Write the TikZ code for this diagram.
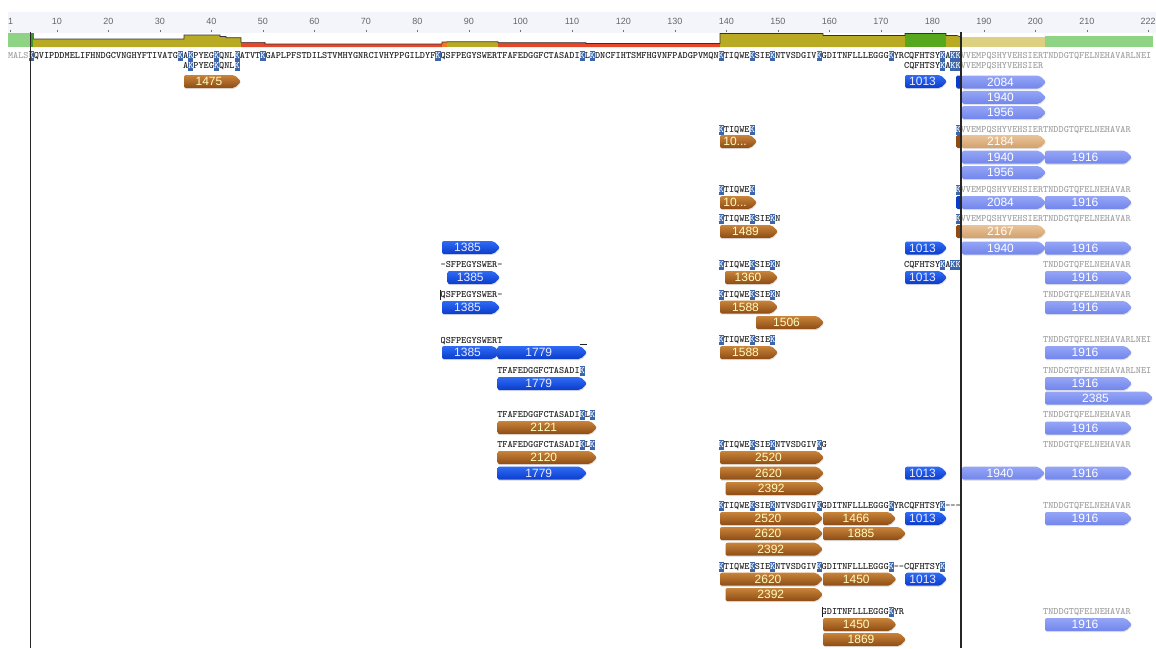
\documentclass[tikz,border=0pt]{standalone}
\usepackage{fontspec}
\newfontfamily\labfont{Liberation Sans}
\usetikzlibrary{shadows}
\definecolor{kblue}{HTML}{3B66AC}
\definecolor{seqc}{HTML}{222222}
\definecolor{seqgray}{HTML}{A3A3A3}
\definecolor{barolive}{HTML}{B8AA22}
\definecolor{barred}{HTML}{E5472B}
\definecolor{barorange}{HTML}{F07A1E}
\definecolor{bargreen}{HTML}{56A81C}
\definecolor{bardkgreen}{HTML}{3C9A1E}
\definecolor{lgreen}{HTML}{8FD484}
\definecolor{lyellow}{HTML}{DDD081}
\definecolor{rulbg}{HTML}{F3F5FA}
\definecolor{brtop}{HTML}{C8843A}
\definecolor{brbot}{HTML}{8E4C14}
\definecolor{bltop}{HTML}{2F6BF4}
\definecolor{blbot}{HTML}{0A3CCB}
\definecolor{petop}{HTML}{95A5F6}
\definecolor{pebot}{HTML}{7286EC}
\definecolor{tntop}{HTML}{E9C499}
\definecolor{tnbot}{HTML}{D3A06C}
% sequence typesetting: each residue in a 5.15pt cell, "!" marks a highlighted residue
\def\sqloop#1{\ifx\relax#1\let\sqnext\relax\else\ifx!#1\let\sqnext\sqhl\else\makebox[5.15pt][c]{#1}\let\sqnext\sqloop\fi\fi\sqnext}
\def\sqhl#1{{\fboxsep=0pt\colorbox{kblue}{\makebox[5.15pt][c]{\rule[-2.5pt]{0pt}{10pt}\textcolor{white}{#1}}}}\sqloop}
\newcommand\sq[1]{\rule[-2.5pt]{0pt}{10pt}\sqloop#1\relax}
\newcommand\seqn[5][seqt]{\node[#1] (#2) at ({8+(#3-1)*5.15},#4) {\sq{#5}};}
\newcommand\farr[6]{%
  \path[arr#5] (#2,#4) -- (#3-6.5,#4) -- (#3,#4+6.5) -- (#3-6.5,#4+13) -- (#2,#4+13) -- cycle;
  \node[lab#5] (#1) at ({(#2+#3-7)/2},#4+6.8) {#6};}
\begin{document}
\begin{tikzpicture}[x=1pt,y=-1pt,
  seqt/.style={inner sep=0pt,outer sep=0pt,anchor=west,text=seqc,font=\ttfamily\bfseries\fontsize{9.8}{10}\selectfont},
  seqg/.style={seqt,text=seqgray},
  sh/.style={drop shadow={shadow xshift=0.4pt,shadow yshift=-1.2pt,opacity=0.22}},
  arrB/.style={sh,top color=brtop,bottom color=brbot,rounded corners=2pt},
  arrL/.style={sh,top color=bltop,bottom color=blbot,rounded corners=2pt},
  arrP/.style={sh,top color=petop,bottom color=pebot,rounded corners=2pt},
  arrT/.style={sh,top color=tntop,bottom color=tnbot,rounded corners=2pt},
  labbase/.style={inner sep=0pt,font=\labfont\fontsize{12}{13}\selectfont},
  labB/.style={labbase,text=yellow!25!white},
  labL/.style={labbase,text=blue!8!white},
  labP/.style={labbase,text=white},
  labT/.style={labbase,text=white},
  rul/.style={inner sep=0pt,font=\labfont\fontsize{9}{10}\selectfont,text=black!60},
  tick/.style={draw=black!55,line width=0.6pt},
  vline/.style={draw=black!85,line width=1.3pt},
  cursor/.style={draw=seqc,line width=0.8pt}]
\useasboundingbox[fill=white] (0,0) rectangle (1156,648);
% ruler
\fill[rulbg] (8,12) rectangle (1156,33);
\node[rul] (r1) at (10.6,21) {1};
\draw[tick] (10.6,29.5) -- ++(0,2.5);
\foreach \n in {10,20,...,210} {
  \node[rul] (r\n) at ({10.6+(\n-1)*5.15},21) {\n};
  \draw[tick] ({10.6+(\n-1)*5.15},29.5) -- ++(0,2.5);
}
\node[rul] (r222) at (1148,21) {222};
\draw[tick] (1148,29.5) -- ++(0,2.5);
% coverage track
\fill[lgreen] (8,33) rectangle (30,47);
\fill[bardkgreen] (30,33) rectangle (33.5,47);
\fill[barolive] (33,47) -- (33,39) -- (184,39) -- (184,35) -- (220,35) -- (220,36.5) -- (226,36.5) -- (226,37.7) -- (241,37.7) -- (241,47) -- cycle;
\fill[barred] (241,47) -- (241,42.3) -- (265,42.3) -- (265,44) -- (442,44) -- (442,47) -- cycle;
\fill[barorange] (442,47) -- (442,42) -- (447,42) -- (447,47) -- cycle;
\fill[barolive] (447,47) -- (447,41.7) -- (498,41.7) -- (498,47) -- cycle;
\fill[barred] (498,47) -- (498,42.7) -- (586,42.7) -- (586,43.5) -- (720,43.5) -- (720,47) -- cycle;
\fill[barolive] (720,47) -- (720,33.5) -- (823,33.5) -- (823,35.5) -- (905,35.5) -- (905,47) -- cycle;
\fill[bargreen] (905,47) -- (905,33.5) -- (946,33.5) -- (946,47) -- cycle;
\fill[barolive] (946,47) -- (946,35.5) -- (957,35.5) -- (961,37) -- (961,47) -- cycle;
\fill[lyellow] (961,36.7) rectangle (1045,47);
\fill[lgreen] (1045,36) rectangle (1153,47);
\draw[black!80,line width=0.6pt] (33,39) -- (184,39) -- (184,35) -- (220,35) -- (220,36.5) -- (226,36.5) -- (226,37.7) -- (241,37.7) -- (241,42.3) -- (265,42.3) -- (265,44) -- (442,44) -- (442,42) -- (447,42) -- (447,41.7) -- (498,41.7) -- (498,42.7) -- (586,42.7) -- (586,43.5) -- (720,43.5) -- (720,33.5) -- (823,33.5) -- (823,35.5) -- (905,35.5) -- (905,33.5) -- (946,33.5) -- (946,35.5) -- (957,35.5) -- (961,37);
% sequences
\seqn[seqg]{s0a}{1}{56}{MALS}
\seqn{s0b}{5}{56}{!KQVIPDDMELIFHNDGCVNGHYFTIVATG!KA!KPYEG!KQNL!KATVT!KGAPLPFSTDILSTVMHYGNRCIVHYPPGILDYF!KQSFPEGYSWERTFAFEDGGFCTASADI!KL!KDNCFIHTSMFHGVNFPADGPVMQN!KTIQWE!KSIE!KNTVSDGIV!KGDITNFLLLEGGG!KYRCQFHTSY!KA!K!K}
\seqn[seqg]{s0c}{186}{56}{VVEMPQSHYVEHSIERTNDDGTQFELNEHAVARLNEI}
\seqn{s1a}{35}{65.5}{A!KPYEG!KQNL!K}
\seqn{s1b}{175}{65.5}{CQFHTSY!KA!K!K}
\seqn[seqg]{s1c}{186}{65.5}{VVEMPQSHYVEHSIER}
\seqn{s2a}{139}{129.5}{!KTIQWE!K}
\seqn{s2b}{185}{129.5}{!K}
\seqn[seqg]{s2c}{186}{129.5}{VVEMPQSHYVEHSIERTNDDGTQFELNEHAVAR}
\seqn{s3a}{139}{190}{!KTIQWE!K}
\seqn{s3b}{185}{190}{!K}
\seqn[seqg]{s3c}{186}{190}{VVEMPQSHYVEHSIERTNDDGTQFELNEHAVAR}
\seqn{s4a}{139}{219}{!KTIQWE!KSIE!KN}
\seqn{s4b}{185}{219}{!K}
\seqn[seqg]{s4c}{186}{219}{VVEMPQSHYVEHSIERTNDDGTQFELNEHAVAR}
\seqn{s5a}{85}{265}{-SFPEGYSWER-}
\seqn{s5b}{139}{265}{!KTIQWE!KSIE!KN}
\seqn{s5c}{175}{265}{CQFHTSY!KA!K!K}
\seqn[seqg]{s5d}{202}{265}{TNDDGTQFELNEHAVAR}
\seqn{s6a}{85}{294.5}{QSFPEGYSWER-}
\seqn{s6b}{139}{294.5}{!KTIQWE!KSIE!KN}
\seqn[seqg]{s6c}{202}{294.5}{TNDDGTQFELNEHAVAR}
\seqn{s7a}{85}{341}{QSFPEGYSWERT}
\seqn{s7b}{139}{340}{!KTIQWE!KSIE!K}
\seqn[seqg]{s7c}{202}{340}{TNDDGTQFELNEHAVARLNEI}
\seqn{s8a}{96}{370.5}{TFAFEDGGFCTASADI!K}
\seqn[seqg]{s8b}{202}{370.5}{TNDDGTQFELNEHAVARLNEI}
\seqn{s9a}{96}{415}{TFAFEDGGFCTASADI!KL!K}
\seqn[seqg]{s9b}{202}{415}{TNDDGTQFELNEHAVAR}
\seqn{s10a}{96}{445}{TFAFEDGGFCTASADI!KL!K}
\seqn{s10b}{139}{445}{!KTIQWE!KSIE!KNTVSDGIV!KG}
\seqn[seqg]{s10c}{202}{445}{TNDDGTQFELNEHAVAR}
\seqn{s11a}{139}{506}{!KTIQWE!KSIE!KNTVSDGIV!KGDITNFLLLEGGG!KYRCQFHTSY!K---}
\seqn[seqg]{s11b}{202}{506}{TNDDGTQFELNEHAVAR}
\seqn{s12a}{139}{566.5}{!KTIQWE!KSIE!KNTVSDGIV!KGDITNFLLLEGGG!K--CQFHTSY!K}
\seqn{s13a}{159}{611.5}{GDITNFLLLEGGG!KYR}
\seqn[seqg]{s13b}{202}{611.5}{TNDDGTQFELNEHAVAR}
\draw[cursor] (440.8,289.5) -- (440.8,299.5);
\draw[cursor] (822.6,606.5) -- (822.6,616.5);
\draw[seqc,line width=1pt] (580,344.5) -- (587,344.5);
% stubs hidden behind the right-hand features
\path[fill=blbot,rounded corners=1.5pt] (956,75.5) rectangle (963,88.5);
\path[fill=brbot,rounded corners=1.5pt] (956,135) rectangle (963,148);
\path[fill=blbot,rounded corners=1.5pt] (956,196) rectangle (963,209);
\path[fill=brbot,rounded corners=1.5pt] (956,225) rectangle (963,238);
% features
\farr{a1}{184}{241}{75}{B}{1475}
\farr{a2}{905}{947}{75}{L}{1013}
\farr{a3}{962}{1046}{75.5}{P}{2084}
\farr{a4}{962}{1046}{90.8}{P}{1940}
\farr{a5}{962}{1046}{106}{P}{1956}
\farr{a6}{720}{757}{135}{B}{10...}
\farr{a7}{962}{1046}{135}{T}{2184}
\farr{a8}{962}{1046}{150.7}{P}{1940}
\farr{a9}{1045}{1132}{150.7}{P}{1916}
\farr{a10}{962}{1046}{166}{P}{1956}
\farr{a11}{720}{757}{196}{B}{10...}
\farr{a12}{962}{1046}{196}{P}{2084}
\farr{a13}{1045}{1132}{196}{P}{1916}
\farr{a14}{720}{778}{225}{B}{1489}
\farr{a15}{962}{1046}{225}{T}{2167}
\farr{a16}{442}{500}{241}{L}{1385}
\farr{a17}{905}{947}{241.5}{L}{1013}
\farr{a18}{962}{1046}{241.5}{P}{1940}
\farr{a19}{1045}{1132}{241.5}{P}{1916}
\farr{a20}{447.5}{500}{271}{L}{1385}
\farr{a21}{725}{778}{271}{B}{1360}
\farr{a22}{905}{947}{271}{L}{1013}
\farr{a23}{1045}{1132}{271}{P}{1916}
\farr{a24}{442}{500}{301}{L}{1385}
\farr{a25}{720}{778}{300.5}{B}{1588}
\farr{a26}{1045}{1132}{301}{P}{1916}
\farr{a27}{756}{824}{316}{B}{1506}
\farr{a28}{442}{500}{346}{L}{1385}
\farr{a29}{497.5}{587}{346}{L}{1779}
\farr{a30}{720}{778}{346}{B}{1588}
\farr{a31}{1045}{1132}{346}{P}{1916}
\farr{a32}{497.5}{587}{377}{L}{1779}
\farr{a33}{1045}{1132}{377}{P}{1916}
\farr{a34}{1045}{1153}{391.5}{P}{2385}
\farr{a35}{497.5}{597}{421}{B}{2121}
\farr{a36}{1045}{1132}{421.5}{P}{1916}
\farr{a37}{497.5}{597}{451}{B}{2120}
\farr{a38}{720}{824}{451}{B}{2520}
\farr{a39}{497.5}{587}{466.7}{L}{1779}
\farr{a40}{720}{824}{466.7}{B}{2620}
\farr{a41}{905}{947}{466.7}{L}{1013}
\farr{a42}{962}{1045}{466.7}{P}{1940}
\farr{a43}{1045}{1132}{466.7}{P}{1916}
\farr{a44}{725.5}{824}{482}{B}{2392}
\farr{a45}{720}{823}{512}{B}{2520}
\farr{a46}{823}{896}{512}{B}{1466}
\farr{a47}{905}{947}{512}{L}{1013}
\farr{a48}{1045}{1132}{512}{P}{1916}
\farr{a49}{720}{823}{527}{B}{2620}
\farr{a50}{823}{906}{527}{B}{1885}
\farr{a51}{725.5}{823}{542.7}{B}{2392}
\farr{a52}{720}{823}{572.7}{B}{2620}
\farr{a53}{823}{896.5}{572.7}{B}{1450}
\farr{a54}{905.5}{947}{572.7}{L}{1013}
\farr{a55}{725.5}{823}{588}{B}{2392}
\farr{a56}{823}{896.5}{618}{B}{1450}
\farr{a57}{823}{906}{633}{B}{1869}
\farr{a58}{1045}{1132}{618}{P}{1916}
% boundary lines
\draw[vline] (30.5,32) -- (30.5,648);
\draw[vline] (961,32) -- (961,648);
\end{tikzpicture}
\end{document}
